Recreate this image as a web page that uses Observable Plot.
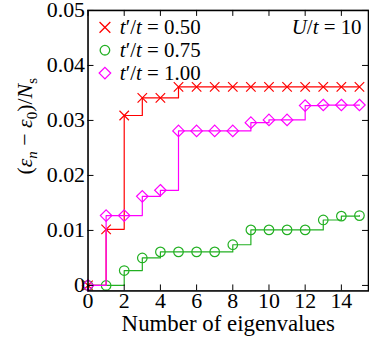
<!DOCTYPE html>
<html>
<head>
<meta charset="utf-8">
<script src="https://cdn.jsdelivr.net/npm/d3@7"></script>
<script src="https://cdn.jsdelivr.net/npm/@observablehq/plot@0.6"></script>
<style>
html, body { margin: 0; padding: 0; background: #fff; overflow: hidden; }
#chart { width: 369px; height: 342px; overflow: hidden; }
#chart svg, #chart svg text, #chart svg tspan { font-family: "Liberation Serif", "DejaVu Serif", serif !important; }
</style>
</head>
<body>
<div id="chart"></div>
<script>
// ---- data ----
const nEig = [0, 1, 2, 3, 4, 5, 6, 7, 8, 9, 10, 11, 12, 13, 14, 15];
const tp050 = [0, 0.0102, 0.0309, 0.0341, 0.0341, 0.0361, 0.0361, 0.0361, 0.0361, 0.0361, 0.0361, 0.0361, 0.0361, 0.0361, 0.0361, 0.0361];
const tp075 = [0, 0, 0.0027, 0.0050, 0.0061, 0.0061, 0.0061, 0.0061, 0.0074, 0.0101, 0.0101, 0.0101, 0.0101, 0.0119, 0.0126, 0.0127];
const tp100 = [0, 0.0127, 0.0127, 0.0162, 0.0173, 0.0281, 0.0281, 0.0281, 0.0281, 0.0296, 0.0301, 0.0301, 0.0327, 0.0328, 0.0328, 0.0328];
const seriesNames = ["0.50", "0.75", "1.00"];
const seriesColors = ["#ff0000", "#22b022", "#ff00ff"];
const seriesSymbols = ["times", "circle", "diamond2"];
const xTicks = [0, 2, 4, 6, 8, 10, 12, 14];
const yTicks = [0, 0.01, 0.02, 0.03, 0.04, 0.05];
const xLabel = "Number of eigenvalues";
const yLabel = "(εn − ε0)/Ns";
const annot = "U/t = 10";

const allSeries = [tp050, tp075, tp100];
const W = 371, H = 342, mL = 88, mR = 1, mT = 10, mB = 50;
const innerW = W - mL - mR, innerH = H - mT - mB;

const marks = [];
allSeries.forEach((vals, s) => {
  const rows = nEig.map((x, i) => ({x, y: vals[i]}));
  marks.push(Plot.line(rows, {x: "x", y: "y", curve: "step-after", stroke: seriesColors[s], strokeWidth: 1.2}));
  marks.push(Plot.dot(rows, {x: "x", y: "y", symbol: seriesSymbols[s], r: s === 1 ? 4.8 : (s === 0 ? 4.4 : 5.2), stroke: seriesColors[s], fill: "none", strokeWidth: 1.2}));
});

// inward ticks on all four sides
marks.push(Plot.tickX(xTicks, {x: d => d, insetTop: innerH - 6, stroke: "black", strokeWidth: 1}));
marks.push(Plot.tickX(xTicks, {x: d => d, insetBottom: innerH - 6, stroke: "black", strokeWidth: 1}));
marks.push(Plot.tickY(yTicks, {y: d => d, insetRight: innerW - 6, stroke: "black", strokeWidth: 1}));
marks.push(Plot.tickY(yTicks, {y: d => d, insetLeft: innerW - 6, stroke: "black", strokeWidth: 1}));

marks.push(Plot.axisX(xTicks, {tickSize: 0, tickPadding: 2, fontSize: 22, label: null}));
marks.push(Plot.axisY(yTicks, {tickSize: 0, tickPadding: 3, fontSize: 22, label: null, tickFormat: d => d === 0 ? "0" : d.toFixed(2)}));
marks.push(Plot.frame({stroke: "black", strokeWidth: 1.6}));

// legend
seriesNames.forEach((name, s) => {
  marks.push(Plot.dot([0], {frameAnchor: "top-left", dx: 17, dy: 17 + 23 * s, symbol: seriesSymbols[s], r: s === 1 ? 4.8 : (s === 0 ? 5 : 5.2), stroke: seriesColors[s], fill: "none", strokeWidth: 1.3}));
  marks.push(Plot.text([`t′/t = ${name}`], {frameAnchor: "top-left", dx: 32, dy: 17 + 23 * s, textAnchor: "start", lineAnchor: "middle", fontSize: 21, className: "legtext"}));
});
marks.push(Plot.text([annot], {frameAnchor: "top-right", dx: -7, dy: 17, textAnchor: "end", lineAnchor: "middle", fontSize: 21, className: "annot"}));
marks.push(Plot.text([xLabel], {frameAnchor: "bottom", dy: 24, lineAnchor: "top", fontSize: 23}));
marks.push(Plot.text([yLabel], {frameAnchor: "left", dx: -63, dy: 24, rotate: -90, lineAnchor: "middle", fontSize: 22, className: "ylab"}));

const svg = Plot.plot({
  width: W, height: H,
  marginLeft: mL, marginRight: mR, marginTop: mT, marginBottom: mB,
  style: {background: "white", overflow: "visible"},
  x: {domain: [0, 15.5], axis: null},
  y: {domain: [-0.001, 0.05], axis: null},
  marks
});

// rich text (italics, subscripts) for math labels
d3.select(svg).selectAll(".legtext text").each(function() {
  const t = this.textContent; const v = t.split("= ")[1];
  this.innerHTML = `<tspan font-style="italic">t</tspan>′/<tspan font-style="italic">t</tspan> = ${v}`;
});
d3.select(svg).selectAll(".annot text").each(function() {
  this.innerHTML = `<tspan font-style="italic">U</tspan>/<tspan font-style="italic">t</tspan> = 10`;
});
d3.select(svg).selectAll(".ylab text").each(function() {
  this.innerHTML = `(<tspan font-style="italic">ε</tspan><tspan font-style="italic" font-size="15" dy="5">n</tspan><tspan dy="-5"> − </tspan><tspan font-style="italic">ε</tspan><tspan font-size="15" dy="5">0</tspan><tspan dy="-5">)/</tspan><tspan font-style="italic">N</tspan><tspan font-size="15" dy="5">s</tspan>`;
});

document.getElementById("chart").appendChild(svg);
</script>
</body>
</html>
